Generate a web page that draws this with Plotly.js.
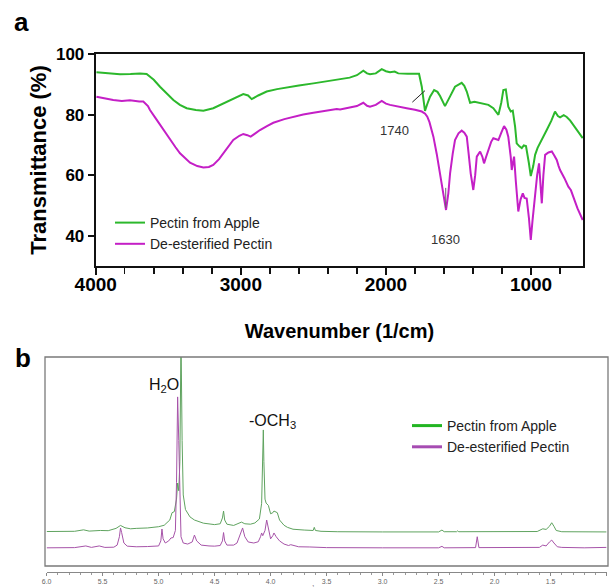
<!DOCTYPE html>
<html><head><meta charset="utf-8">
<script src="https://cdn.plot.ly/plotly-3.0.1.min.js"></script>
<style>html,body{margin:0;padding:0;background:#fff;overflow:hidden}#chart{width:609px;height:587px}</style>
</head><body><div id="chart"></div>
<script>
// ---------- Data ----------
const seriesNames = ['Pectin from Apple', 'De-esterified Pectin'];

// Panel a: FTIR
const ftirWnApple = [3995,3900,3833,3760,3695,3649,3600,3557,3510,3465,3420,3373,3310,3258,3190,3140,3097,3040,2983,2950,2925,2880,2822,2750,2684,2600,2500,2400,2316,2250,2200,2156,2130,2110,2070,2029,2000,1972,1940,1915,1850,1772,1753,1731,1715,1696,1668,1645,1627,1593,1558,1524,1478,1460,1443,1420,1390,1351,1320,1294,1260,1225,1205,1191,1174,1157,1140,1126,1110,1099,1080,1064,1050,1035,1015,1002,985,972,955,938,915,892,860,835,815,800,775,754,730,709,680,644];
const ftirTApple = [94.0,93.5,93.3,93.4,93.6,93.4,91.5,89.2,87.0,84.8,83.2,82.1,81.5,81.3,82.1,83.3,84.3,85.7,86.8,86.3,85.1,86.3,87.6,88.4,89.0,89.6,90.3,91.0,91.6,92.2,93.0,94.5,93.6,93.3,93.6,95.0,94.3,94.0,94.2,93.6,93.5,93.5,89.2,81.2,83.5,85.9,88.1,87.5,86.1,82.8,86.0,89.2,90.5,89.5,87.6,83.9,84.2,83.8,83.6,83.2,82.1,79.9,84.0,88.1,88.3,82.6,81.0,81.3,76.0,70.5,69.5,68.9,69.8,69.6,64.0,59.7,63.0,66.7,69.0,70.5,72.5,74.9,78.0,81.0,79.5,79.1,79.8,79.2,78.0,76.6,74.5,72.2];
const ftirWnDeest = [3995,3930,3879,3820,3764,3700,3672,3640,3626,3590,3557,3520,3488,3450,3419,3380,3350,3300,3258,3220,3190,3150,3121,3085,3052,3010,2983,2955,2932,2900,2868,2820,2776,2700,2638,2570,2500,2420,2339,2316,2250,2200,2156,2130,2110,2070,2029,2000,1972,1920,1857,1800,1753,1730,1715,1700,1673,1650,1627,1605,1586,1570,1558,1540,1524,1500,1478,1460,1443,1430,1416,1398,1385,1374,1351,1335,1324,1310,1294,1275,1260,1240,1225,1205,1186,1170,1157,1140,1133,1125,1117,1105,1088,1072,1057,1045,1030,1015,1002,990,972,958,945,935,926,915,903,880,857,840,823,810,800,770,743,725,709,680,644];
const ftirTDeest = [85.9,85.2,84.8,84.5,84.7,84.3,84.3,82.8,81.5,79.0,76.6,74.0,71.6,69.2,67.2,65.4,64.1,63.0,62.5,62.7,63.4,65.3,67.2,69.5,71.6,73.0,73.6,73.2,72.7,73.8,74.9,76.2,77.3,78.5,79.3,80.0,80.6,81.2,81.8,81.7,82.3,82.8,83.9,82.9,82.6,83.2,84.5,83.6,83.2,82.6,82.1,81.6,81.0,80.3,79.3,77.5,72.7,67.0,60.6,54.0,48.5,54.0,60.6,67.0,71.6,73.8,74.7,74.0,72.7,67.0,60.6,55.1,60.0,66.1,67.8,66.0,63.9,66.0,68.3,71.0,72.2,71.9,71.6,74.0,76.2,75.0,72.7,66.0,61.7,64.0,66.1,58.0,48.0,52.0,54.0,52.5,52.3,46.0,38.6,45.0,54.0,60.0,63.9,58.0,50.7,60.0,66.7,67.5,67.8,66.5,65.0,63.0,61.7,59.0,56.2,55.0,52.9,49.0,45.2];
const ftirXTicks = [4000,3000,2000,1000];
const ftirXTickText = ['4000','3000','2000','1000'];
const ftirYTicks = [40,60,80,100];
const ftirYTickText = ['40','60','80','100'];
const ftirPeakLabels = ['1740','1630'];

// Panel b: 1H NMR (intensity in arbitrary units, traces offset as in picture)
const nmrPpmApple = [6.0,5.75,5.67,5.62,5.52,5.45,5.38,5.34,5.30,5.25,5.2,5.1,5.0,4.95,4.90,4.88,4.86,4.84,4.83,4.82,4.81,4.80,4.79,4.78,4.76,4.72,4.68,4.6,4.5,4.45,4.43,4.42,4.41,4.39,4.33,4.28,4.26,4.23,4.18,4.14,4.1,4.08,4.07,4.065,4.06,4.05,4.04,4.02,4.0,3.98,3.97,3.96,3.94,3.92,3.88,3.85,3.8,3.7,3.62,3.61,3.60,3.55,3.4,3.0,2.5,2.47,2.45,2.34,2.33,2.32,1.8,1.62,1.57,1.54,1.51,1.49,1.47,1.45,1.4,1.0];
const nmrIntApple = [16.5,16.6,17.3,16.7,17.0,16.9,18.0,19.4,18.3,17.8,18.0,18.2,18.8,19.5,22.0,25.5,26.0,32.0,39.7,36.0,50.0,110,60.0,34.0,27.0,23.5,22.0,20.5,19.8,20.2,23.0,26.3,22.0,20.0,19.4,20.5,21.0,20.2,20.0,20.6,22.5,30.0,50.0,65.1,50.0,32.0,30.1,29.0,25.0,25.5,26.3,26.0,25.5,22.0,19.5,18.5,17.6,17.2,17.0,18.5,17.0,16.6,16.4,16.3,16.3,17.2,16.4,16.4,16.8,16.4,16.3,16.5,17.8,17.5,19.0,20.7,19.0,17.0,16.4,16.3];
const nmrPpmDeest = [6.0,5.75,5.65,5.6,5.53,5.48,5.4,5.37,5.35,5.34,5.33,5.31,5.28,5.2,5.1,5.0,4.98,4.97,4.96,4.94,4.91,4.89,4.87,4.85,4.84,4.83,4.82,4.81,4.80,4.78,4.74,4.70,4.68,4.66,4.62,4.55,4.5,4.45,4.43,4.42,4.41,4.39,4.33,4.3,4.27,4.25,4.23,4.2,4.15,4.11,4.09,4.08,4.07,4.05,4.035,4.02,4.0,3.98,3.97,3.95,3.92,3.88,3.84,3.82,3.75,3.65,3.5,3.0,2.5,2.47,2.45,2.17,2.155,2.14,1.8,1.6,1.57,1.54,1.51,1.49,1.47,1.44,1.4,1.2,1.0];
const nmrIntDeest = [8.7,8.8,9.6,8.9,9.6,8.9,9.0,10.0,14.0,18.2,16.0,11.0,9.5,9.2,9.3,9.6,12.0,17.7,13.0,11.0,12.0,13.4,13.6,17.0,40.0,80.9,60.0,30.0,14.0,11.0,10.5,11.5,14.8,12.0,10.0,9.6,9.5,9.8,12.0,16.0,12.0,10.0,10.0,11.0,15.0,18.2,14.0,11.5,11.0,11.6,14.0,15.8,14.5,17.0,22.0,18.5,13.0,14.5,15.8,14.0,12.0,10.5,9.8,10.2,9.2,9.1,8.8,8.7,8.7,9.4,8.7,8.8,14.0,8.8,8.8,8.9,10.0,9.6,11.5,12.4,11.0,9.2,8.9,8.7,8.9];
const nmrXTicks = [6.0,5.5,5.0,4.5,4.0,3.5,3.0,2.5,2.0,1.5,1.0];
const nmrXTickText = ['6.0','5.5','5.0','4.5','4.0','3.5','3.0','2.5','2.0','1.5','1.0'];
const nmrPeakLabels = ['H<sub>2</sub>O', '-OCH<sub>3</sub>'];
const nmrAxisLabel = '<sup>1</sup>H (ppm)';

// ---------- Layout helpers ----------
const W = 609, H = 587;
const fx = p => p / W, fy = p => 1 - p / H;
const FONT = 'Liberation Sans, Arial, Helvetica, sans-serif';

const cA = ['#2cb82c', '#c41fc6'];
const cB = ['#5fa35f', '#a653a8'];
const cBLeg = ['#22b522', '#a64cb2'];

const traces = [
  {x: ftirWnApple, y: ftirTApple, name: seriesNames[0], type: 'scatter', mode: 'lines',
   line: {color: cA[0], width: 2}, xaxis: 'x', yaxis: 'y', legend: 'legend'},
  {x: ftirWnDeest, y: ftirTDeest, name: seriesNames[1], type: 'scatter', mode: 'lines',
   line: {color: cA[1], width: 2}, xaxis: 'x', yaxis: 'y', legend: 'legend'},
  {x: nmrPpmApple, y: nmrIntApple, name: seriesNames[0], type: 'scatter', mode: 'lines',
   line: {color: cB[0], width: 1}, xaxis: 'x2', yaxis: 'y2', showlegend: false},
  {x: nmrPpmDeest, y: nmrIntDeest, name: seriesNames[1], type: 'scatter', mode: 'lines',
   line: {color: cB[1], width: 1}, xaxis: 'x2', yaxis: 'y2', showlegend: false},
  {x: [null], y: [null], name: seriesNames[0], type: 'scatter', mode: 'lines',
   line: {color: cBLeg[0], width: 3}, xaxis: 'x2', yaxis: 'y2', legend: 'legend2'},
  {x: [null], y: [null], name: seriesNames[1], type: 'scatter', mode: 'lines',
   line: {color: cBLeg[1], width: 3}, xaxis: 'x2', yaxis: 'y2', legend: 'legend2'}
];

const layout = {
  width: W, height: H, margin: {l: 0, r: 0, t: 0, b: 0},
  paper_bgcolor: '#fff', plot_bgcolor: 'rgba(0,0,0,0)',
  font: {family: FONT, color: '#000'},
  xaxis: {
    domain: [fx(95.7), fx(583.3)], range: [4000, 640], anchor: 'y',
    showline: true, linewidth: 2, linecolor: '#111', mirror: true,
    ticks: 'outside', ticklen: 7, tickwidth: 2, tickcolor: '#111',
    tickmode: 'array', tickvals: ftirXTicks, ticktext: ftirXTickText,
    tickfont: {size: 19, weight: 'bold', color: '#000'}, ticklabelstandoff: -7,
    minor: {tick0: 0, dtick: 200, ticks: 'outside', ticklen: 6, tickwidth: 1.5, tickcolor: '#111', showgrid: false},
    showgrid: false, zeroline: false,
    title: {text: 'Wavenumber (1/cm)', font: {size: 20, weight: 'bold', color: '#000'}, standoff: 30}
  },
  yaxis: {
    domain: [fy(266), fy(54)], range: [30, 100], anchor: 'x',
    showline: true, linewidth: 2, linecolor: '#111', mirror: true,
    ticks: 'outside', ticklen: 6, tickwidth: 2, tickcolor: '#111',
    tickmode: 'array', tickvals: ftirYTicks, ticktext: ftirYTickText,
    tickfont: {size: 17, weight: 'bold', color: '#000'},
    showgrid: false, zeroline: false,
    title: {text: 'Transmittance (%)', font: {size: 22, weight: 'bold', color: '#000'}, standoff: 3}
  },
  xaxis2: {
    domain: [fx(46.6), fx(606.6)], range: [6.0, 1.0], anchor: 'free', position: fy(572),
    showline: true, linewidth: 1, linecolor: '#888',
    ticks: 'outside', ticklen: 3, tickwidth: 1, tickcolor: '#888',
    tickmode: 'array', tickvals: nmrXTicks, ticktext: nmrXTickText,
    tickfont: {size: 7, color: '#666'},
    minor: {tick0: 0, dtick: 0.1, ticks: 'outside', ticklen: 2, tickwidth: 1, tickcolor: '#999', showgrid: false},
    showgrid: false, zeroline: false
  },
  yaxis2: {
    domain: [fy(566), fy(357)], range: [0, 100], anchor: 'x2', visible: false
  },
  legend: {
    x: fx(110), y: fy(207), xanchor: 'left', yanchor: 'top',
    font: {size: 14, color: '#222', family: FONT}, bgcolor: 'rgba(255,255,255,0)',
    tracegroupgap: 0, itemclick: false
  },
  legend2: {
    x: fx(407), y: fy(410), xanchor: 'left', yanchor: 'top',
    font: {size: 14, color: '#222', family: FONT}, bgcolor: 'rgba(255,255,255,0)',
    tracegroupgap: 0, itemclick: false
  },
  shapes: [
    {type: 'rect', xref: 'paper', yref: 'paper', x0: fx(45), x1: fx(608), y0: fy(566), y1: fy(357),
     line: {color: '#7a7a7a', width: 1.3}, fillcolor: 'rgba(0,0,0,0)'},
    {type: 'line', xref: 'x', yref: 'y', x0: 1818, y0: 84.1, x1: 1731, y1: 87.9,
     line: {color: '#222', width: 1}},
    {type: 'line', xref: 'x', yref: 'y', x0: 1588, y0: 49.2, x1: 1588, y1: 55.8,
     line: {color: '#666', width: 1}}
  ],
  annotations: [
    {text: 'a', xref: 'paper', yref: 'paper', x: fx(21), y: fy(22), xanchor: 'center', yanchor: 'middle',
     showarrow: false, font: {size: 26, weight: 'bold', color: '#000'}},
    {text: 'b', xref: 'paper', yref: 'paper', x: fx(23), y: fy(358), xanchor: 'center', yanchor: 'middle',
     showarrow: false, font: {size: 26, weight: 'bold', color: '#000'}},
    {text: ftirPeakLabels[0], xref: 'x', yref: 'y', x: 1944, y: 74.7, showarrow: false,
     font: {size: 13, color: '#333'}},
    {text: ftirPeakLabels[1], xref: 'x', yref: 'y', x: 1588, y: 38.6, showarrow: false,
     font: {size: 13, color: '#333'}},
    {text: nmrPeakLabels[0], xref: 'x2', yref: 'y2', x: 4.956, y: 86.6, showarrow: false,
     font: {size: 16, color: '#111'}},
    {text: nmrPeakLabels[1], xref: 'x2', yref: 'y2', x: 3.983, y: 69.0, showarrow: false,
     font: {size: 16, color: '#111'}},
    {text: nmrAxisLabel, xref: 'paper', yref: 'paper', x: fx(326), y: fy(583), xanchor: 'center', yanchor: 'top',
     showarrow: false, font: {size: 7, color: '#777'}}
  ]
};

Plotly.newPlot('chart', traces, layout, {staticPlot: true, displayModeBar: false});
</script>
</body></html>
